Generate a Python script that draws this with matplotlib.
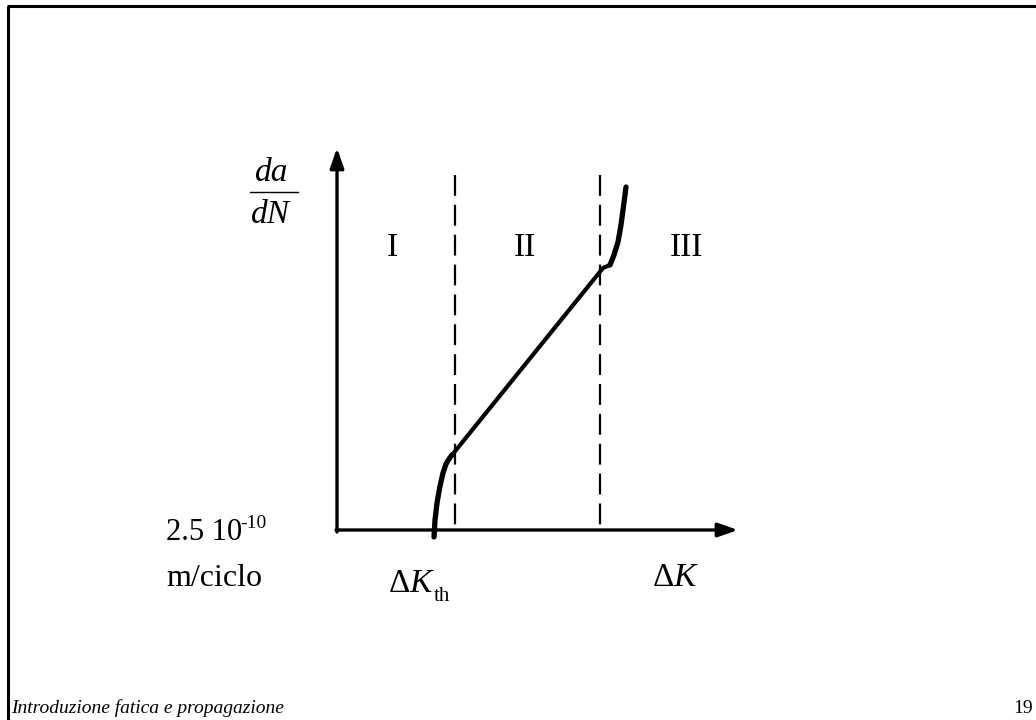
import matplotlib
matplotlib.use("Agg")
import matplotlib.pyplot as plt
import numpy as np

plt.rcParams['font.family'] = ['Liberation Serif', 'DejaVu Serif']
plt.rcParams['mathtext.fontset'] = 'custom'
plt.rcParams['mathtext.rm'] = 'Liberation Serif'
plt.rcParams['mathtext.it'] = 'Liberation Serif:italic'
plt.rcParams['lines.scale_dashes'] = False

# Schematic coordinates (canvas units, y downwards)
region1_x = [434, 435, 437, 440, 443, 446, 449, 452]
region1_y = [537, 520, 503, 486, 473, 464, 459, 455]
region2_x = [452, 603, 610]
region2_y = [455, 268, 265]
region3_x = [610, 614, 618, 621, 623, 625, 626]
region3_y = [265, 255, 242, 225, 210, 195, 187]
threshold_lines = [455, 600]
region_labels = ['I', 'II', 'III']
region_label_x = [392, 525, 686]

fig = plt.figure(figsize=(10.36, 7.2), dpi=100)
ax = fig.add_axes([0, 0, 1, 1])
ax.set_xlim(0, 1036)
ax.set_ylim(720, 0)
ax.axis('off')

# slide frame (top and left)
ax.plot([7, 1036], [6, 6], color='black', lw=2.2, solid_capstyle='butt')
ax.plot([7.5, 7.5], [6, 720], color='black', lw=2.2, solid_capstyle='butt')

# axes with arrows
ax.annotate('', xy=(337, 148), xytext=(337, 532),
            arrowprops=dict(arrowstyle='-|>,head_length=1.2,head_width=0.42', lw=2.4, color='black',
                            shrinkA=0, shrinkB=0))
ax.annotate('', xy=(738, 530), xytext=(336, 530),
            arrowprops=dict(arrowstyle='-|>,head_length=1.2,head_width=0.42', lw=2.4, color='black',
                            shrinkA=0, shrinkB=0))

# dashed region boundaries
for xv in threshold_lines:
    ax.plot([xv, xv], [175, 530], color='black', lw=1.6, dashes=(15, 6.5))

# crack growth curve
ax.plot(region1_x, region1_y, color='black', lw=3.8, solid_capstyle='round', solid_joinstyle='round')
ax.plot(region2_x, region2_y, color='black', lw=3.0, solid_capstyle='round', solid_joinstyle='round')
ax.plot(region3_x, region3_y, color='black', lw=3.8, solid_capstyle='round', solid_joinstyle='round')

fs = 24
for lab, xl in zip(region_labels, region_label_x):
    ax.text(xl, 256, lab, fontsize=fs, ha='center', va='baseline')

# da/dN label
ax.text(272, 181, 'da', fontsize=fs, style='italic', ha='center', va='baseline')
ax.plot([250, 298], [191.5, 191.5], color='black', lw=1.0)
ax.text(270, 223, 'dN', fontsize=fs, style='italic', ha='center', va='baseline')

# y-origin label
ax.text(166, 540, '2.5 10', fontsize=22, ha='left', va='baseline')
ax.text(240, 528, '-10', fontsize=14, ha='left', va='baseline')
ax.text(166, 586, 'm/ciclo', fontsize=23, ha='left', va='baseline')

# x labels
ax.text(388, 592, r'$\Delta K$', fontsize=fs, ha='left', va='baseline')
ax.text(434, 601, 'th', fontsize=15, ha='left', va='baseline')
ax.text(652, 586, r'$\Delta K$', fontsize=fs, ha='left', va='baseline')

# footer
ax.text(11, 713, 'Introduzione fatica e propagazione', fontsize=14, style='italic',
        ha='left', va='baseline')
ax.text(1033, 713, '19', fontsize=14, ha='right', va='baseline')

fig.savefig('out.png', dpi=100)
